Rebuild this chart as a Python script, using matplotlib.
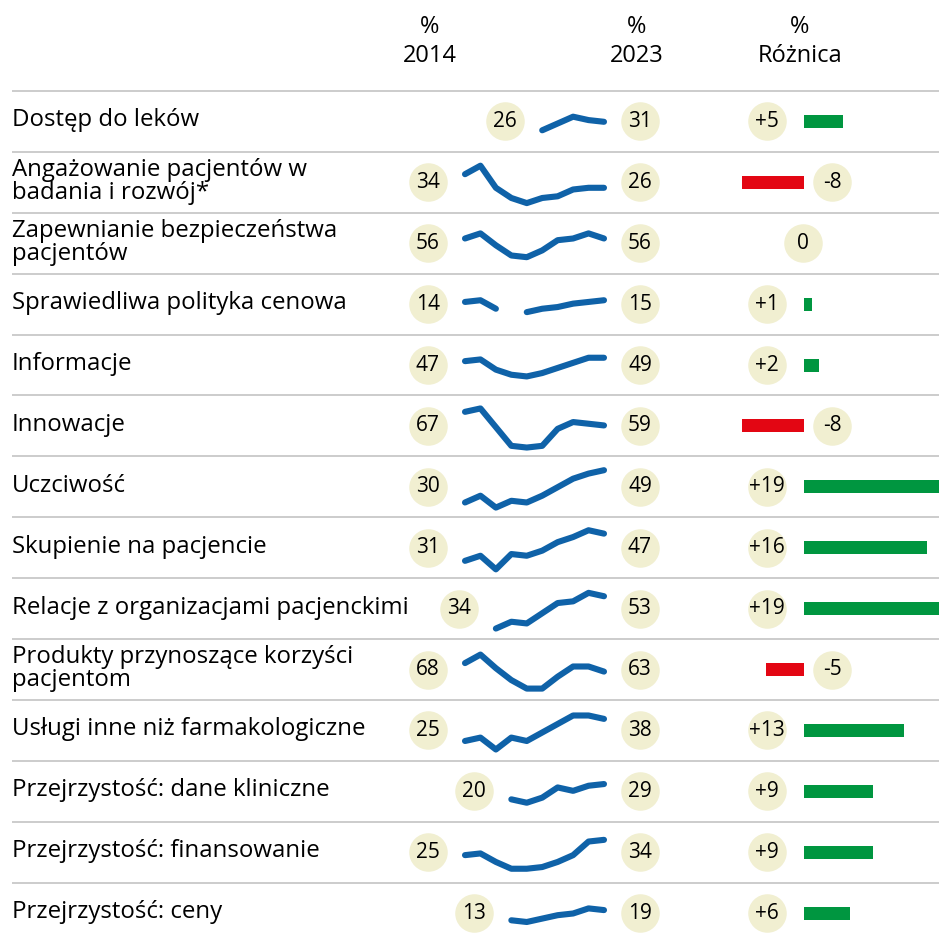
import numpy as np
import matplotlib.pyplot as plt

plt.rcParams['font.family'] = ['Open Sans', 'DejaVu Sans']

# data
labels = [
    'Dostęp do leków',
    'Angażowanie pacjentów w\nbadania i rozwój*',
    'Zapewnianie bezpieczeństwa\npacjentów',
    'Sprawiedliwa polityka cenowa',
    'Informacje',
    'Innowacje',
    'Uczciwość',
    'Skupienie na pacjencie',
    'Relacje z organizacjami pacjenckimi',
    'Produkty przynoszące korzyści\npacjentom',
    'Usługi inne niż farmakologiczne',
    'Przejrzystość: dane kliniczne',
    'Przejrzystość: finansowanie',
    'Przejrzystość: ceny',
]
years = np.arange(2014, 2024)
nan = np.nan
series = [
    [nan, nan, nan, nan, nan, 26, 30, 34, 32, 31],
    [34, 39, 26, 20, 17, 20, 21, 25, 26, 26],
    [56, 59, 52, 46, 45, 49, 55, 56, 59, 56],
    [14, 15, 10, nan, 8, 10, 11, 13, 14, 15],
    [47, 48, 42, 39, 38, 40, 43, 46, 49, 49],
    [67, 69, 58, 47, 46, 47, 57, 61, 60, 59],
    [30, 34, 27, 31, 30, 34, 39, 44, 47, 49],
    [31, 34, 26, 35, 34, 37, 42, 45, 49, 47],
    [nan, nan, 34, 38, 37, 43, 49, 50, 55, 53],
    [68, 73, 65, 58, 53, 53, 60, 66, 66, 63],
    [25, 27, 20, 27, 25, 30, 35, 40, 40, 38],
    [nan, nan, nan, 20, 18, 21, 27, 25, 28, 29],
    [25, 26, 21, 17, 17, 18, 21, 25, 33, 34],
    [nan, nan, nan, 13, 12, 14, 16, 17, 20, 19],
]
first_vals = [26, 34, 56, 14, 47, 67, 30, 31, 34, 68, 25, 20, 25, 13]
last_vals = [31, 26, 56, 15, 49, 59, 49, 47, 53, 63, 38, 29, 34, 19]
diffs = [5, -8, 0, 1, 2, -8, 19, 16, 19, -5, 13, 9, 9, 6]

# layout (pixels)
W, H = 939, 938
top = 91
rh = 60.9
n = len(labels)
blue = '#0f62a8'
bubble = '#f1efd1'
green = '#009640'
red = '#e30613'
fs = 17.3
fs_num = 15

fig = plt.figure(figsize=(W / 100, H / 100), dpi=100)
ax = fig.add_axes([0, 0, 1, 1])
ax.set_xlim(0, W)
ax.set_ylim(H, 0)
ax.axis('off')

# header
for x, t in [(430, '2014'), (637, '2023'), (800, 'Różnica')]:
    ax.text(x, 33, '%', ha='center', va='baseline', fontsize=17)
    ax.text(x, 62, t, ha='center', va='baseline', fontsize=17)

# separators and labels
for i in range(n):
    y0 = top + rh * i
    ax.plot([12, W], [y0, y0], color='#cccccc', lw=1.4, solid_capstyle='butt')
    yc = y0 + rh / 2
    lines = labels[i].split('\n')
    if len(lines) == 1:
        ax.text(12, yc + 5, lines[0], va='baseline', fontsize=fs)
    else:
        ax.text(12, yc - 6.5, lines[0], va='baseline', fontsize=fs)
        ax.text(12, yc + 16.5, lines[1], va='baseline', fontsize=fs)

# sparklines
px_yr = (604 - 465) / 9
px_pt = 1.7
sx0, sx1 = 400, 680
for i in range(n):
    y0 = top + rh * i
    sp = fig.add_axes([sx0 / W, 1 - (y0 + rh) / H, (sx1 - sx0) / W, rh / H])
    sp.axis('off')
    vals = np.array(series[i], dtype=float)
    span = rh / px_pt
    mid = (np.nanmin(vals) + np.nanmax(vals)) / 2 + 1.2
    sp.set_ylim(mid - span / 2, mid + span / 2)
    sp.set_xlim(2014 - (465 - sx0) / px_yr, 2023 + (sx1 - 604) / px_yr)
    sp.plot(years, vals, color=blue, lw=4.4, solid_capstyle='round',
            solid_joinstyle='round')
    fy = years[~np.isnan(vals)][0]
    bx = [fy - 37 / px_yr, 2023 + 36 / px_yr]
    sp.scatter(bx, [mid, mid], s=770, color=bubble, lw=0, clip_on=False, zorder=3)
    sp.text(bx[0], mid, str(first_vals[i]), ha='center', va='center',
            fontsize=fs_num, zorder=4)
    sp.text(bx[1], mid, str(last_vals[i]), ha='center', va='center',
            fontsize=fs_num, zorder=4)

# difference bars
bpx = 7.7
dx0 = 700
dax = fig.add_axes([dx0 / W, 0, (W - dx0) / W, (H - top) / H])
dax.axis('off')
dax.set_xlim(-(804 - dx0) / bpx, (W - 804) / bpx)
dax.set_ylim((H - top) / rh - 0.5, -0.5)
rows = np.arange(n)
colors = [green if d > 0 else red for d in diffs]
dax.barh(rows, diffs, height=13 / rh, color=colors)
for i, d in enumerate(diffs):
    if d > 0:
        bxp, t = -37 / bpx, f'+{d}'
    elif d < 0:
        bxp, t = 28 / bpx, f'{d}'
    else:
        bxp, t = -1 / bpx, '0'
    dax.scatter([bxp], [i], s=770, color=bubble, lw=0, clip_on=False, zorder=3)
    dax.text(bxp, i, t, ha='center', va='center', fontsize=fs_num, zorder=4)

fig.savefig('out.png', dpi=100)
